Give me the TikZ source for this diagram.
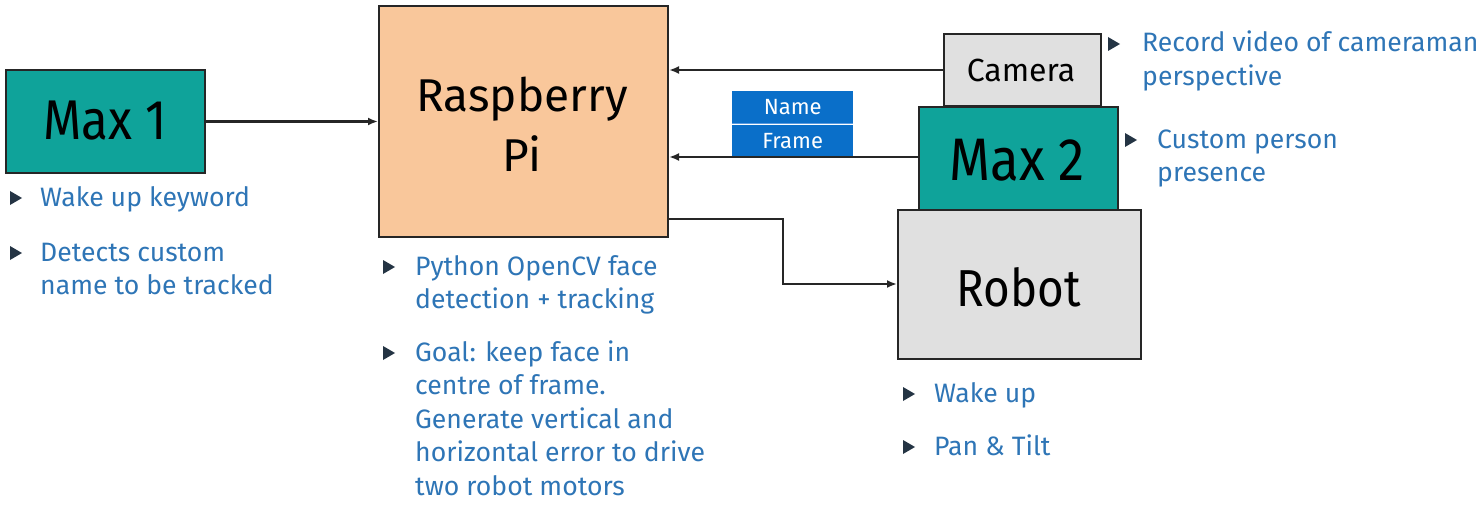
\documentclass[tikz,border=0pt]{standalone}
\usepackage{fontspec}
\setmainfont{Fira Sans}
\newfontfamily\condfont{Fira Sans}[FakeStretch=0.88]
\usetikzlibrary{arrows.meta}
\definecolor{teal1}{HTML}{0FA39A}
\definecolor{peach}{HTML}{F9C79B}
\definecolor{lgray}{HTML}{E0E0E0}
\definecolor{nblue}{HTML}{0A6FC9}
\definecolor{divblue}{HTML}{5A9BE0}
\definecolor{txtblue}{HTML}{2E75B6}
\definecolor{bulcol}{HTML}{243444}
\definecolor{edge}{HTML}{262626}
\tikzset{
  x=1pt, y=-1pt,
  box/.style={draw=edge, line width=2pt, inner sep=0pt, anchor=north west},
  link/.style={draw=edge, line width=2.3pt, -{Latex[length=10pt,width=8pt]}},
  bultext/.style={anchor=base west, inner sep=0pt, align=left, text=txtblue,
    font=\fontsize{26.6}{33.6}\selectfont},
  tagbox/.style={fill=nblue, inner sep=0pt, anchor=north west, text=white,
    minimum width=121pt, minimum height=32pt, font=\fontsize{22}{24}\selectfont},
}
\newcommand{\bulat}[2]{\fill[bulcol] (#1-6,#2-7) -- (#1+6,#2) -- (#1-6,#2+7) -- cycle;}
\begin{document}
\begin{tikzpicture}
\useasboundingbox (0,0) rectangle (1482,505);
% boxes
\node[box, fill=teal1, minimum width=199pt, minimum height=103pt] (max1) at (5,69) {};
\node[font=\condfont\fontsize{56}{60}\selectfont] (max1t) at (105,121) {Max 1};
\node[box, fill=peach, minimum width=289pt, minimum height=231pt] (rpi) at (378,5) {};
\node[font=\fontsize{46}{60}\selectfont, align=center] (rpit) at (522,124) {Raspberry\\Pi};
\node[box, fill=lgray, minimum width=157pt, minimum height=72pt] (cam) at (943,33) {};
\node[font=\fontsize{32}{34}\selectfont] (camt) at (1021,70) {Camera};
\node[box, fill=lgray, minimum width=243pt, minimum height=149pt] (robot) at (897,209) {};
\node[font=\condfont\fontsize{52}{56}\selectfont] (robott) at (1019,287) {Robot};
\node[box, fill=teal1, minimum width=199pt, minimum height=103pt] (max2) at (918,106) {};
\node[font=\condfont\fontsize{60}{64}\selectfont] (max2t) at (1017,160) {Max 2};
% tag
\node[tagbox] (name) at (732,91) {Name};
\node[tagbox] (frame) at (732,125) {Frame};
\draw[divblue, line width=1.2pt] (name.south west) -- (name.south east);
% connectors
\draw[link] (max1.east) -- (rpi.west |- max1.east);
\coordinate (camin) at (cam.west |- 0,70);
\draw[link] (camin) -- (rpi.east |- camin);
\coordinate (m2in) at (max2.west |- 0,157);
\draw[link] (m2in) -- (rpi.east |- m2in);
\coordinate (rout) at (rpi.east |- 0,219);
\coordinate (rin) at (robot.west |- 0,284);
\draw[link] (rout) -| (783,284) -- (rin);
% bullets (anchor is baseline of the last line)
\bulat{16}{198}
\node[bultext] (b1) at (40,206) {Wake up keyword};
\bulat{16}{253}
\node[bultext] (b2) at (40,294.6) {Detects custom\\name to be tracked};
\bulat{389}{267}
\node[bultext] (b3) at (415,308.6) {Python OpenCV face\\detection + tracking};
\bulat{389}{353}
\node[bultext] (b4) at (415,495.4) {Goal: keep face in\\centre of frame.\\Generate vertical and\\horizontal error to drive\\two robot motors};
\bulat{1114}{44}
\node[bultext] (b5) at (1142,85.6) {Record video of cameraman\\perspective};
\bulat{1131}{140}
\node[bultext] (b6) at (1157,181.6) {Custom person\\presence};
\bulat{909}{394}
\node[bultext] (b7) at (934,402) {Wake up};
\bulat{909}{447}
\node[bultext] (b8) at (934,455) {Pan \& Tilt};
\end{tikzpicture}
\end{document}
